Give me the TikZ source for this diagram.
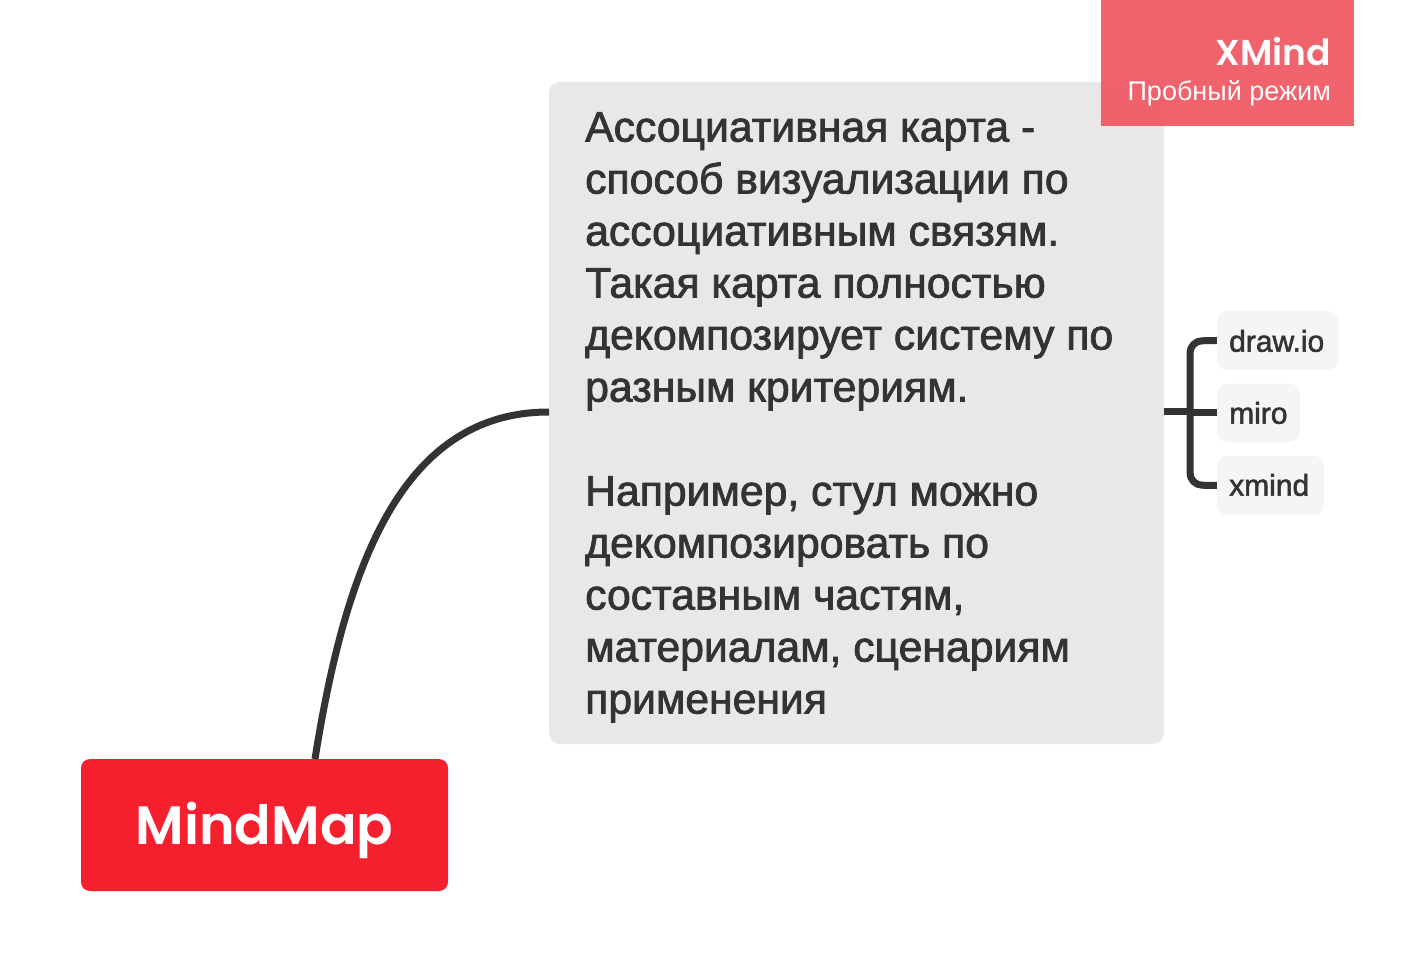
\documentclass[tikz,border=0pt]{standalone}
\usepackage{fontspec}
\setmainfont{Liberation Sans}
\newfontfamily\medfont{Liberation Sans}[FakeBold=1.8]
\newfontfamily\geofont{Poppins}[UprightFont={* SemiBold}]
\definecolor{txt}{HTML}{333333}
\definecolor{mmred}{HTML}{F5202E}
\definecolor{boxgray}{HTML}{E8E8E8}
\definecolor{leafgray}{HTML}{F5F5F5}
\definecolor{wmred}{HTML}{F05A65}
\begin{document}
\begin{tikzpicture}[x=1pt,y=-1pt,
  conn/.style={line width=7pt,color=txt,line cap=butt},
  leaf/.style={fill=leafgray,rounded corners=10pt,draw=none},
  leaftext/.style={anchor=west,inner sep=0pt,text=txt,font=\medfont\fontsize{30}{32}\selectfont}]
\path[use as bounding box,fill=white] (0,0) rectangle (1419,973);
% main topic
\node[fill=mmred,rounded corners=9pt,minimum width=367pt,minimum height=132pt,inner sep=0pt] (mm) at (264.5,825) {};
\node[anchor=base,inner sep=0pt,text=white,font=\geofont\fontsize{54}{60}\selectfont] (mmt) at (264.5,844) {MindMap};
% gray box
\node[fill=boxgray,rounded corners=11pt,minimum width=615pt,minimum height=662pt,inner sep=0pt] (desc) at (856.5,413) {};
\node[anchor=north west,inner sep=0pt,align=left,text=txt,font=\medfont\fontsize{42.7}{52}\selectfont] (desctext) at (585,112)
{Ассоциативная карта -\\
способ визуализации по\\
ассоциативным связям.\\
Такая карта полностью\\
декомпозирует систему по\\
разным критериям.\\
\mbox{}\\
Например, стул можно\\
декомпозировать по\\
составным частям,\\
материалам, сценариям\\
применения};
% connector
\coordinate (mmtop) at (315,759);
\coordinate (descleft) at (549,412);
\draw[conn] (mmtop) .. controls (345,570) and (400,412) .. (descleft);
% leaves
\node[leaf,minimum width=121pt,minimum height=59pt] (l1) at (1277.5,340.5) {};
\node[leaf,minimum width=83pt,minimum height=58pt] (l2) at (1258.5,413) {};
\node[leaf,minimum width=107pt,minimum height=59pt] (l3) at (1270.5,485.5) {};
\node[leaftext] (t1) at (1229,341) {draw.io};
\node[leaftext] (t2) at (1229,413) {miro};
\node[leaftext] (t3) at (1229,485) {xmind};
% bracket
\coordinate (br) at (1164,412);
\draw[conn] (br) -- (1190,412);
\draw[conn,rounded corners=12pt] (l1.west) -- (1190,341) -- (1190,485) -- (l3.west);
\draw[conn] (1190,413) -- (l2.west);
% watermark
\node[fill=wmred,fill opacity=0.95,minimum width=253pt,minimum height=126pt,inner sep=0pt] (wm) at (1227.5,63) {};
\node[anchor=base east,inner sep=0pt,text=white,font=\geofont\fontsize{36}{40}\selectfont] (wm1) at (1331,66) {XMind};
\node[anchor=base east,inner sep=0pt,text=white,font=\fontsize{27}{30}\selectfont] (wm2) at (1331,101) {Пробный режим};
\end{tikzpicture}
\end{document}
